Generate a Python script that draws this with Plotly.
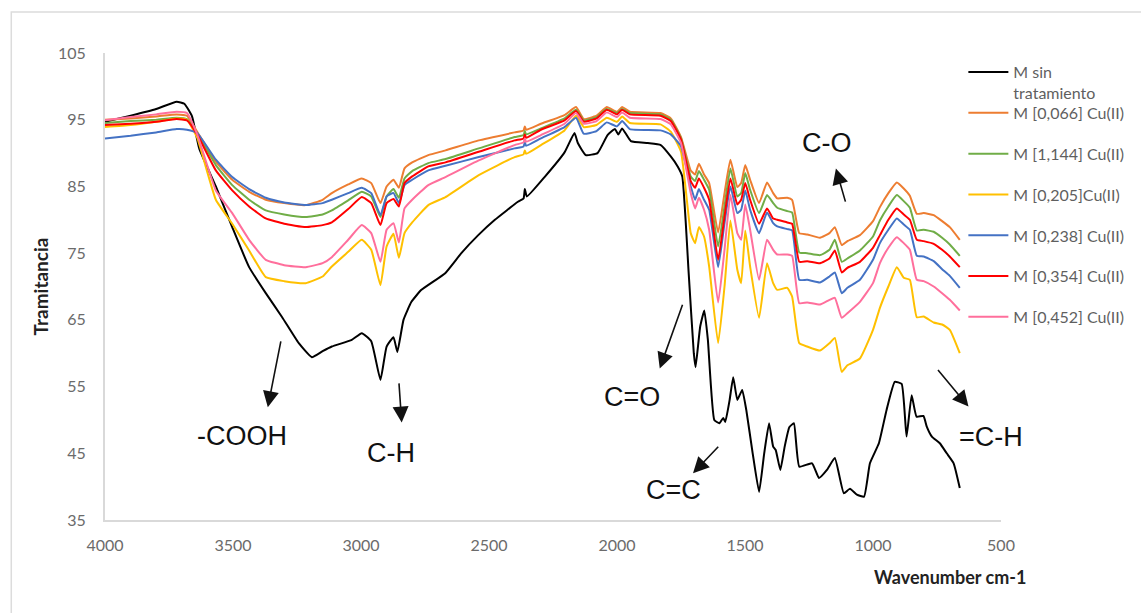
import plotly.graph_objects as go

# FTIR transmittance spectra (wavenumber in cm-1, transmittance in %)
wn_sin = [4000, 3900, 3800, 3720, 3690, 3660, 3632, 3567, 3503, 3437,
          3372, 3308, 3243, 3192, 3150, 3114, 3036, 2997, 2960, 2924,
          2900, 2873, 2858, 2834, 2803, 2764, 2671, 2608, 2542, 2477,
          2387, 2365, 2360, 2352, 2283, 2205, 2166, 2153, 2122, 2076,
          2037, 2008, 1995, 1980, 1946, 1880, 1829, 1790, 1763, 1745,
          1720, 1700, 1693, 1675, 1659, 1645, 1620, 1600, 1585, 1577,
          1560, 1546, 1530, 1511, 1495, 1470, 1445, 1425, 1406, 1390,
          1380, 1362, 1345, 1327, 1309, 1288, 1238, 1211, 1180, 1149,
          1114, 1090, 1063, 1035, 1012, 977, 947, 915, 888, 869,
          849, 830, 803, 790, 770, 739, 712, 685, 661]
t_sin = [94.7, 95.6, 96.6, 97.7, 97.4, 95.5, 90.7, 85.0, 78.9, 72.9,
         69.0, 65.4, 61.5, 59.4, 60.3, 61.0, 62.0, 63.0, 61.8, 56.0,
         61.0, 62.4, 60.2, 65.0, 67.7, 69.5, 72.0, 75.0, 77.7, 80.0,
         82.7, 83.2, 84.6, 83.5, 86.4, 90.1, 93.0, 91.5, 89.7, 90.0,
         92.7, 93.6, 92.8, 93.7, 91.8, 91.5, 91.2, 89.5, 88.0, 86.5,
         72.0, 60.0, 57.9, 64.0, 66.4, 62.0, 50.0, 49.5, 50.3, 49.7,
         53.0, 56.4, 53.0, 54.5, 51.5, 45.0, 39.2, 45.0, 49.5, 46.0,
         45.5, 42.5, 46.0, 48.9, 49.5, 43.0, 43.5, 41.3, 42.5, 44.3,
         39.0, 39.7, 38.8, 38.5, 43.5, 46.5, 51.5, 55.7, 55.4, 47.5,
         53.7, 50.5, 50.6, 49.0, 47.5, 46.5, 45.0, 43.5, 39.8]

wn_cu = [4000, 3900, 3800, 3720, 3680, 3640, 3567, 3503, 3437, 3372,
         3300, 3216, 3150, 3114, 3050, 2997, 2960, 2924, 2900, 2873,
         2852, 2830, 2800, 2737, 2670, 2540, 2400, 2365, 2360, 2355,
         2297, 2205, 2160, 2130, 2080, 2040, 2000, 1980, 1950, 1830,
         1790, 1750, 1712, 1695, 1680, 1660, 1640, 1605, 1580, 1557,
         1530, 1515, 1499, 1480, 1445, 1414, 1390, 1374, 1335, 1316,
         1288, 1257, 1207, 1170, 1149, 1122, 1100, 1051, 1000, 973,
         940, 907, 880, 856, 829, 802, 763, 730, 700, 661]

t_0066 = [95.0, 95.2, 95.5, 95.8, 95.6, 93.2, 88.7, 86.0, 84.2, 83.0,
          82.5, 82.2, 83.0, 84.0, 85.3, 86.2, 85.5, 82.5, 85.0, 86.0,
          84.8, 87.7, 88.6, 89.7, 90.4, 91.9, 93.1, 93.4, 94.0, 93.5,
          94.4, 95.7, 96.9, 95.1, 95.6, 96.9, 96.2, 96.9, 96.2, 96.0,
          95.2, 92.4, 87.4, 86.8, 88.4, 86.8, 85.5, 78.1, 84.0, 89.0,
          84.9, 85.5, 88.2, 86.0, 82.5, 85.6, 84.0, 83.2, 83.3, 83.0,
          78.0, 77.8, 77.3, 78.0, 78.9, 76.2, 76.8, 77.7, 79.8, 81.9,
          84.0, 85.6, 84.7, 83.6, 80.9, 81.0, 80.7, 79.8, 78.9, 77.0]

t_1144 = [94.5, 94.8, 95.0, 95.3, 95.1, 93.0, 88.2, 85.2, 83.0, 81.4,
          80.8, 80.4, 80.8, 81.4, 82.9, 84.2, 83.5, 80.4, 83.5, 84.6,
          83.3, 86.2, 87.3, 88.5, 89.1, 90.7, 92.4, 92.7, 93.3, 92.8,
          93.7, 95.2, 96.5, 94.9, 95.4, 96.6, 96.0, 96.6, 96.0, 95.8,
          95.0, 92.2, 86.5, 85.8, 87.3, 86.0, 84.5, 76.0, 82.0, 87.7,
          83.5, 84.0, 87.0, 84.5, 81.0, 83.7, 82.5, 81.8, 81.3, 81.1,
          75.1, 75.0, 74.7, 75.5, 77.0, 73.7, 74.2, 75.4, 77.5, 79.9,
          82.0, 83.7, 82.8, 81.8, 78.4, 78.5, 78.2, 77.3, 76.3, 74.6]

t_0205 = [93.9, 94.2, 94.7, 95.2, 95.0, 92.3, 83.0, 79.4, 75.4, 71.4,
          70.8, 70.5, 71.5, 73.0, 75.2, 77.0, 75.5, 70.2, 76.0, 77.9,
          74.3, 78.0, 79.6, 82.2, 83.4, 86.7, 89.4, 89.8, 90.4, 89.9,
          91.2, 93.4, 95.6, 93.9, 94.2, 95.3, 94.7, 95.5, 94.5, 94.3,
          93.2, 90.2, 78.0, 76.5, 78.9, 77.5, 73.0, 61.5, 70.0, 79.9,
          72.5, 70.5, 78.4, 73.0, 65.3, 73.5, 70.5, 69.5, 69.8, 68.5,
          61.5, 61.0, 60.4, 61.5, 62.3, 57.2, 58.2, 59.2, 63.5, 66.8,
          70.0, 72.9, 71.3, 71.0, 65.4, 65.5, 64.6, 64.3, 63.5, 60.0]

t_0238 = [92.2, 92.6, 93.1, 93.6, 93.5, 93.0, 89.0, 86.4, 84.6, 83.3,
          82.6, 82.2, 82.5, 83.0, 84.0, 84.8, 84.0, 80.7, 83.5, 84.0,
          82.5, 85.2, 86.0, 87.4, 88.1, 89.4, 90.7, 91.0, 91.6, 91.1,
          92.2, 93.9, 95.3, 92.9, 93.3, 94.6, 94.0, 94.8, 93.6, 93.4,
          92.8, 91.0, 85.0, 83.0, 84.6, 83.0, 81.5, 72.9, 79.5, 85.0,
          81.0, 81.5, 84.4, 81.5, 78.0, 81.1, 79.5, 79.0, 78.6, 78.4,
          71.0, 71.0, 70.6, 71.5, 72.1, 69.0, 69.8, 71.0, 74.0, 76.5,
          78.5, 80.2, 79.3, 78.5, 74.6, 74.5, 73.8, 72.6, 71.6, 69.8]

t_0354 = [94.2, 94.4, 94.7, 95.1, 94.9, 92.8, 87.4, 84.4, 82.0, 80.2,
          79.4, 78.9, 79.2, 79.6, 81.6, 83.4, 82.5, 79.2, 82.5, 83.1,
          82.0, 85.5, 86.5, 88.0, 88.6, 90.2, 91.9, 92.2, 92.8, 92.3,
          93.5, 94.9, 96.3, 94.7, 95.2, 96.5, 95.8, 96.5, 95.8, 95.6,
          94.8, 92.0, 85.8, 84.8, 86.2, 84.8, 83.0, 74.0, 80.5, 86.2,
          82.3, 83.0, 85.5, 83.0, 79.4, 81.7, 80.2, 80.0, 79.6, 79.4,
          73.7, 73.8, 73.5, 74.2, 75.4, 72.1, 72.8, 73.7, 75.8, 77.7,
          80.0, 81.7, 80.8, 80.0, 77.0, 76.8, 76.4, 75.5, 74.5, 72.9]

t_0452 = [94.9, 95.4, 95.8, 96.2, 96.0, 92.8, 84.4, 81.0, 77.0, 74.0,
          73.2, 72.9, 73.5, 74.4, 77.0, 79.2, 78.0, 73.7, 78.5, 79.5,
          76.6, 81.7, 83.0, 85.2, 86.4, 88.9, 91.2, 91.6, 92.2, 91.7,
          92.7, 94.4, 96.0, 94.4, 94.8, 96.1, 95.4, 96.1, 95.3, 95.1,
          94.3, 91.5, 84.0, 81.7, 83.3, 81.5, 78.5, 67.6, 75.5, 83.7,
          78.0, 77.0, 82.3, 78.5, 71.0, 77.0, 75.5, 74.8, 74.8, 74.6,
          67.5, 67.6, 67.3, 68.0, 68.3, 65.3, 66.0, 67.7, 70.5, 73.5,
          75.8, 77.4, 76.5, 75.5, 71.0, 70.8, 70.0, 69.0, 68.0, 66.4]

series_names = ["M sin<br>tratamiento", "M [0,066] Cu(II)", "M [1,144] Cu(II)",
                "M [0,205]Cu(II)", "M [0,238] Cu(II)", "M [0,354] Cu(II)",
                "M [0,452] Cu(II)"]
series_colors = ["#000000", "#ED7D31", "#70AD47", "#FFC000", "#4472C4",
                 "#FF0000", "#FF6F9C"]

x_ticks = [4000, 3500, 3000, 2500, 2000, 1500, 1000, 500]
y_ticks = [35, 45, 55, 65, 75, 85, 95, 105]

# band labels: (text, text position, arrow tail, arrow head) in data units
band_labels = [
    ("-COOH", (3463, 47.6), (3312, 62.0), (3364, 51.9)),
    ("C-H", (2883, 45.0), (2852, 55.7), (2841, 49.6)),
    ("C=O", (1940, 53.4), (1742, 67.5), (1833, 57.7)),
    ("C=C", (1781, 39.5), (1599, 46.2), (1703, 42.0)),
    ("C-O", (1178, 91.5), (1106, 82.5), (1145, 87.7)),
    ("=C-H", (540, 47.4), (751, 57.7), (627, 52.0)),
]

fig = go.Figure()

data_sets = [(wn_sin, t_sin), (wn_cu, t_0066), (wn_cu, t_1144), (wn_cu, t_0205),
             (wn_cu, t_0238), (wn_cu, t_0354), (wn_cu, t_0452)]
for i, ((xs, ys), name, color) in enumerate(zip(data_sets, series_names, series_colors)):
    fig.add_trace(go.Scatter(
        x=xs, y=ys, mode="lines", name=name, legendgroup=f"g{i}",
        legend="legend" if i == 0 else "legend2",
        line=dict(color=color, width=2, shape="spline", smoothing=0.4),
    ))

annotations = []
for text, (tx, ty), (ax_, ay_), (hx, hy) in band_labels:
    annotations.append(dict(
        x=tx, y=ty, xref="x", yref="y", text=text, showarrow=False,
        font=dict(family="Liberation Sans, Arial", size=27, color="#111111"),
        xanchor="center", yanchor="middle",
    ))
    annotations.append(dict(
        x=hx, y=hy, xref="x", yref="y", ax=ax_, ay=ay_, axref="x", ayref="y",
        text="", showarrow=True, arrowhead=2, arrowsize=2, arrowwidth=1.6,
        arrowcolor="#111111", standoff=0, startstandoff=0,
    ))

annotations.append(dict(
    x=0.943, y=-0.122, xref="paper", yref="paper", text="<b>Wavenumber cm-1</b>",
    showarrow=False, font=dict(family="Lato", size=18, color="#222222"),
    xanchor="center", yanchor="middle",
))

legend_style = dict(
    xanchor="left", yanchor="top",
    font=dict(family="Lato", size=16, color="#5f5f5f"),
    tracegroupgap=17, itemwidth=40, valign="top",
    bgcolor="rgba(0,0,0,0)",
)

fig.update_layout(
    width=1141, height=613,
    margin=dict(l=105, r=137, t=53, b=93),
    paper_bgcolor="white", plot_bgcolor="white",
    font=dict(family="Lato", color="#6b6b6b"),
    annotations=annotations,
    showlegend=True,
    legend=dict(x=0.958, y=0.9957, **legend_style),
    legend2=dict(x=0.958, y=0.908, **legend_style),
    shapes=[dict(type="rect", xref="paper", yref="paper",
                 x0=-0.1046, x1=1.16, y0=-0.25, y1=1.0878,
                 line=dict(color="#dcdcdc", width=1.5), layer="below")],
)

fig.update_xaxes(
    range=[4000, 500], tickvals=x_ticks, showgrid=False, zeroline=False,
    showline=True, linecolor="#d9d9d9", linewidth=2, ticks="",
    ticklabelstandoff=10, tickfont=dict(family="Lato", size=16, color="#6b6b6b"),
)
fig.update_yaxes(
    range=[35, 105], tickvals=y_ticks, showgrid=False, zeroline=False,
    showline=True, linecolor="#d9d9d9", linewidth=2, ticks="",
    ticklabelstandoff=14, tickfont=dict(family="Lato", size=16, color="#6b6b6b"),
    title=dict(text="<b>Tramitancia</b>", standoff=4,
               font=dict(family="Lato", size=19, color="#222222")),
)

fig.write_html("out.html")
